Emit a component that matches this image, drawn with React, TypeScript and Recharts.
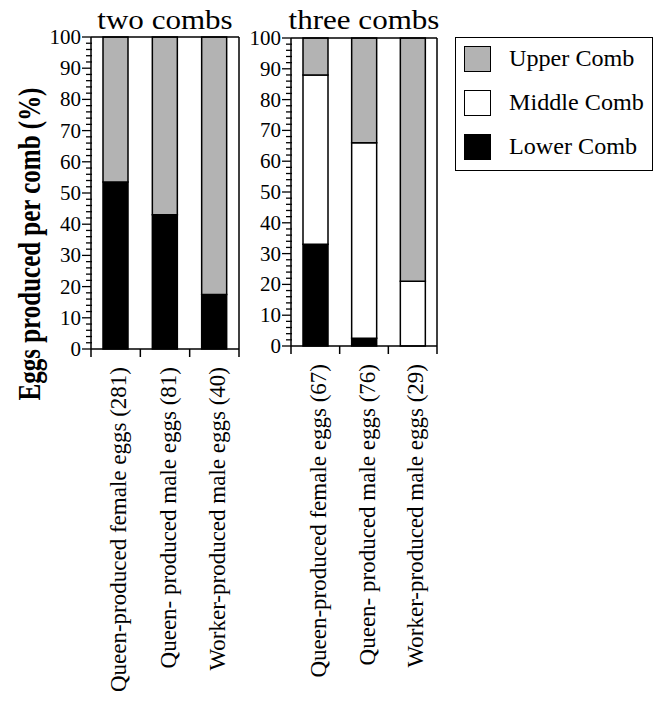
import { Bar, BarChart, Label, Legend, XAxis, YAxis } from 'recharts';

const twoCombCategories = ['Queen-produced female eggs (281)', 'Queen- produced male eggs (81)', 'Worker-produced male eggs (40)'];
const twoCombLower = [53.5, 43, 17.5];
const twoCombUpper = [46.5, 57, 82.5];

const threeCombCategories = ['Queen-produced female eggs (67)', 'Queen- produced male eggs (76)', 'Worker-produced male eggs (29)'];
const threeCombLower = [33, 2.5, 0];
const threeCombMiddle = [55, 63.5, 21];
const threeCombUpper = [12, 34, 79];

const yTicks = Array.from({ length: 51 }, (_, i) => i * 2);

const FONT = '"Liberation Serif", "Times New Roman", serif';
const GRAY = '#b3b3b3';

const twoData = twoCombCategories.map((name, i) => ({ name, lower: twoCombLower[i], upper: twoCombUpper[i] }));
const threeData = threeCombCategories.map((name, i) => ({
    name,
    lower: threeCombLower[i],
    middle: threeCombMiddle[i],
    upper: threeCombUpper[i],
}));

const YTick = (props: any) => {
    const { x, y, payload } = props;
    const v = payload.value;
    const major = v % 10 === 0;
    return (
        <g>
            <line x1={major ? x - 9 : x - 5} x2={major ? x : x + 1} y1={y} y2={y} stroke="#000" strokeWidth={1.3} />
            {major && (
                <text x={x - 10} y={y} textAnchor="end" dominantBaseline="central" fontSize={21} fontFamily={FONT} fill="#000">
                    {v}
                </text>
            )}
        </g>
    );
};

const makeXTick = (band: number, count: number) => (props: any) => {
    const { x, y, payload, index } = props;
    return (
        <g>
            <line x1={x - band / 2} x2={x - band / 2} y1={y} y2={y + 8} stroke="#000" strokeWidth={1.5} />
            {index === count - 1 && <line x1={x + band / 2} x2={x + band / 2} y1={y} y2={y + 8} stroke="#000" strokeWidth={1.5} />}
            <text
                transform={`translate(${x + 3}, ${y + 18}) rotate(-90)`}
                textAnchor="end"
                dominantBaseline="central"
                fontSize={23}
                fontFamily={FONT}
                fill="#000"
            >
                {payload.value}
            </text>
        </g>
    );
};

const titleLabel = (text: string) => (props: any) => {
    const { viewBox } = props;
    const cx = viewBox.x + viewBox.width / 2;
    return (
        <text transform={`translate(${cx}, 29) scale(1.15, 1)`} textAnchor="middle" fontSize={27} fontFamily={FONT} fill="#000">
            {text}
        </text>
    );
};

const yAxisLabel = () => (
    <text
        transform="translate(29, 244) scale(1.3, 1) rotate(-90)"
        textAnchor="middle"
        dominantBaseline="central"
        fontSize={25}
        fontWeight="bold"
        fontFamily={FONT}
        fill="#000"
    >
        Eggs produced per comb (%)
    </text>
);

const LegendBox = (props: any) => {
    const items = [...(props.payload ?? [])].reverse();
    return (
        <div style={{ width: 198, height: 134, border: '1.5px solid #000', boxSizing: 'border-box', background: '#fff', position: 'relative' }}>
            {items.map((it: any, i: number) => (
                <div key={it.value} style={{ position: 'absolute', left: 8, top: 8 + i * 44, height: 26, display: 'flex', alignItems: 'center' }}>
                    <div style={{ width: 27, height: 26, background: it.color, border: '1.5px solid #000', boxSizing: 'border-box' }} />
                    <span
                        style={{
                            marginLeft: 18,
                            fontFamily: FONT,
                            fontSize: 23,
                            color: '#000',
                            display: 'inline-block',
                            whiteSpace: 'nowrap',
                            transform: 'scaleX(1.05)',
                            transformOrigin: 'left center',
                        }}
                    >
                        {it.value}
                    </span>
                </div>
            ))}
        </div>
    );
};

const axisLine = { stroke: '#000', strokeWidth: 1.5 };

export default function App() {
    return (
        <div style={{ position: 'absolute', left: 0, top: 0, width: 661, height: 704, background: '#fff' }}>
            <div style={{ position: 'absolute', left: 0, top: 0 }}>
                <BarChart width={245} height={704} data={twoData} margin={{ top: 36, right: 5, left: 0, bottom: 0 }} barSize={25}>
                    <XAxis dataKey="name" height={355} axisLine={axisLine} tickLine={false} tickSize={0} tickMargin={0} interval={0} tick={makeXTick(148 / 3, 3)} />
                    <XAxis xAxisId="top" dataKey="name" orientation="top" height={1} axisLine={axisLine} tickLine={false} tick={false}>
                        <Label content={titleLabel('two combs')} />
                    </XAxis>
                    <YAxis width={91} domain={[0, 100]} ticks={yTicks} interval={0} axisLine={axisLine} tickLine={false} tickSize={0} tickMargin={0} tick={YTick}>
                        <Label content={yAxisLabel} />
                    </YAxis>
                    <YAxis yAxisId="right" orientation="right" width={1} domain={[0, 100]} axisLine={axisLine} tickLine={false} tick={false} />
                    <Bar dataKey="lower" name="Lower Comb" stackId="a" fill="#000" stroke="#000" strokeWidth={1.5} isAnimationActive={false} />
                    <Bar dataKey="upper" name="Upper Comb" stackId="a" fill={GRAY} stroke="#000" strokeWidth={1.5} isAnimationActive={false} />
                </BarChart>
            </div>
            <div style={{ position: 'absolute', left: 245, top: 0 }}>
                <BarChart width={416} height={704} data={threeData} margin={{ top: 37, right: 223, left: 0, bottom: 0 }} barSize={25}>
                    <XAxis dataKey="name" height={358} axisLine={axisLine} tickLine={false} tickSize={0} tickMargin={0} interval={0} tick={makeXTick(146 / 3, 3)} />
                    <XAxis xAxisId="top" dataKey="name" orientation="top" height={1} axisLine={axisLine} tickLine={false} tick={false}>
                        <Label content={titleLabel('three combs')} />
                    </XAxis>
                    <YAxis width={46} domain={[0, 100]} ticks={yTicks} interval={0} axisLine={axisLine} tickLine={false} tickSize={0} tickMargin={0} tick={YTick} />
                    <YAxis yAxisId="right" orientation="right" width={1} domain={[0, 100]} axisLine={axisLine} tickLine={false} tick={false} />
                    <Legend
                        layout="horizontal"
                        align="center"
                        verticalAlign="middle"
                        content={LegendBox}
                        wrapperStyle={{ left: 210, top: 37, width: 198, height: 134 }}
                    />
                    <Bar dataKey="lower" name="Lower Comb" stackId="a" fill="#000" stroke="#000" strokeWidth={1.5} isAnimationActive={false} />
                    <Bar dataKey="middle" name="Middle Comb" stackId="a" fill="#fff" stroke="#000" strokeWidth={1.5} isAnimationActive={false} />
                    <Bar dataKey="upper" name="Upper Comb" stackId="a" fill={GRAY} stroke="#000" strokeWidth={1.5} isAnimationActive={false} />
                </BarChart>
            </div>
        </div>
    );
}
